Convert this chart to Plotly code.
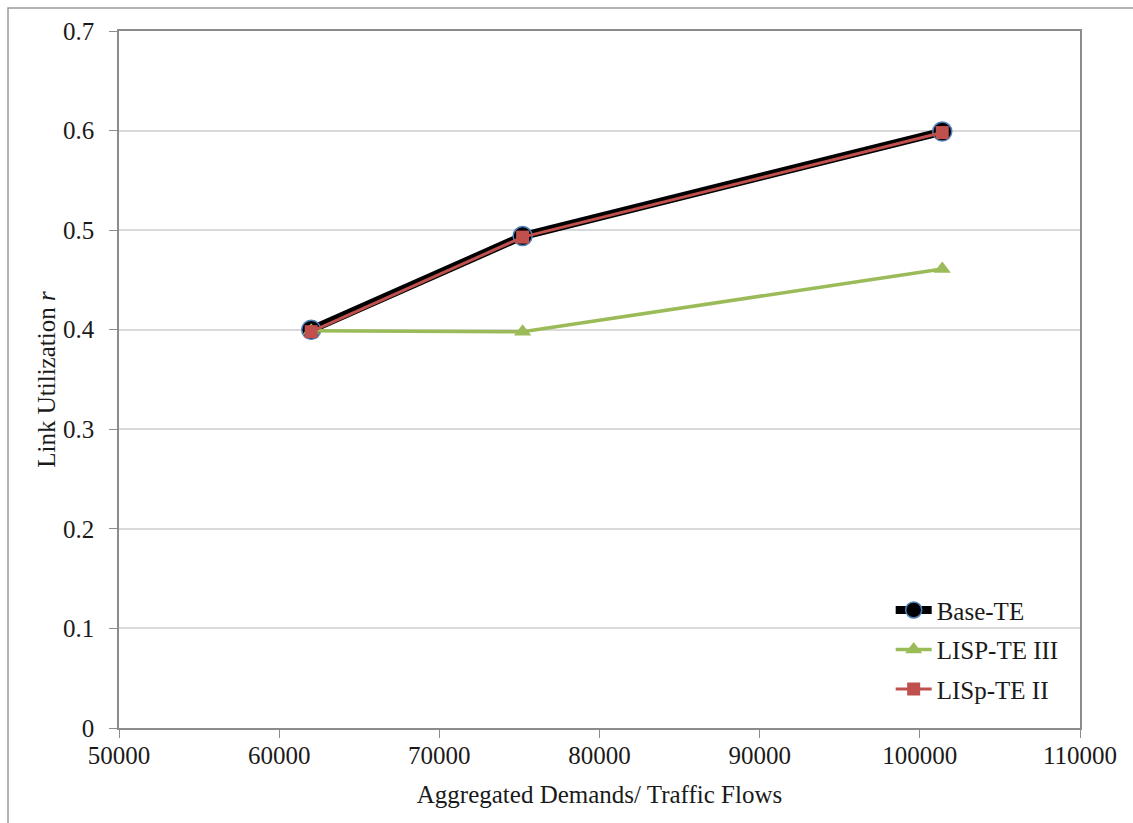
import plotly.graph_objects as go

# Aggregated demand levels (x) and link utilization per scheme (y)
demands = [62000, 75200, 101400]
base_te = [0.400, 0.494, 0.599]
lisp_te_iii = [0.399, 0.398, 0.461]
lisp_te_ii = [0.398, 0.493, 0.598]

x_ticks = [50000, 60000, 70000, 80000, 90000, 100000, 110000]
y_ticks = [0, 0.1, 0.2, 0.3, 0.4, 0.5, 0.6, 0.7]

SERIF = "Liberation Serif, Times New Roman, serif"
AXIS_GRAY = "#8c8c8c"
FS = 25

fig = go.Figure()

fig.add_trace(go.Scatter(
    x=demands, y=base_te, name="Base-TE", mode="lines+markers",
    line=dict(color="#000000", width=8),
    marker=dict(symbol="circle", size=19, color="#000000",
                line=dict(color="#4F81BD", width=1.5)),
    legendgroup="a",
))
fig.add_trace(go.Scatter(
    x=demands, y=lisp_te_iii, name="LISP-TE III", mode="lines+markers",
    line=dict(color="#9BBB59", width=3.5),
    marker=dict(symbol="triangle-up", size=15, color="#9BBB59"),
    legendgroup="b",
))
fig.add_trace(go.Scatter(
    x=demands, y=lisp_te_ii, name="LISp-TE II", mode="lines+markers",
    line=dict(color="#C0504D", width=3),
    marker=dict(symbol="square", size=13, color="#C0504D"),
    legendgroup="c",
))

fig.update_layout(
    width=1133, height=823,
    margin=dict(l=119, r=53, t=31, b=95),
    paper_bgcolor="white", plot_bgcolor="white",
    font=dict(family=SERIF, size=FS, color="#1a1a1a"),
    showlegend=True,
    legend=dict(
        x=0.803, y=0.202, xanchor="left", yanchor="top",
        bgcolor="rgba(0,0,0,0)", traceorder="grouped", tracegroupgap=4,
        font=dict(family=SERIF, size=FS, color="#1a1a1a"),
        itemwidth=36,
    ),
    xaxis=dict(
        range=[50000, 110000], tickvals=x_ticks,
        ticktext=[str(v) for v in x_ticks],
        showgrid=False, zeroline=False,
        showline=True, linecolor=AXIS_GRAY, linewidth=1.5, mirror=True,
        ticks="outside", ticklen=8, tickcolor=AXIS_GRAY,
        ticklabelstandoff=-4,
        title=dict(text="Aggregated Demands/ Traffic Flows", standoff=18,
                   font=dict(size=FS)),
    ),
    yaxis=dict(
        range=[0, 0.7], tickvals=y_ticks,
        ticktext=["0", "0.1", "0.2", "0.3", "0.4", "0.5", "0.6", "0.7"],
        showgrid=True, gridcolor="#d9d9d9", gridwidth=1.5, zeroline=False,
        showline=True, linecolor=AXIS_GRAY, linewidth=1.5, mirror=True,
        ticks="outside", ticklen=8, tickcolor=AXIS_GRAY,
        ticklabelstandoff=10,
        title=dict(text="Link Utilization <i>r</i>", standoff=0,
                   font=dict(size=FS)),
    ),
)

# Outer chart-area frame
fig.add_shape(
    type="rect", xref="paper", yref="paper",
    x0=-0.1155, x1=1.1, y0=-0.2, y1=1.0330,
    line=dict(color="#9a9a9a", width=1.5), fillcolor="rgba(0,0,0,0)",
    layer="below",
)

fig.write_html("out.html")
